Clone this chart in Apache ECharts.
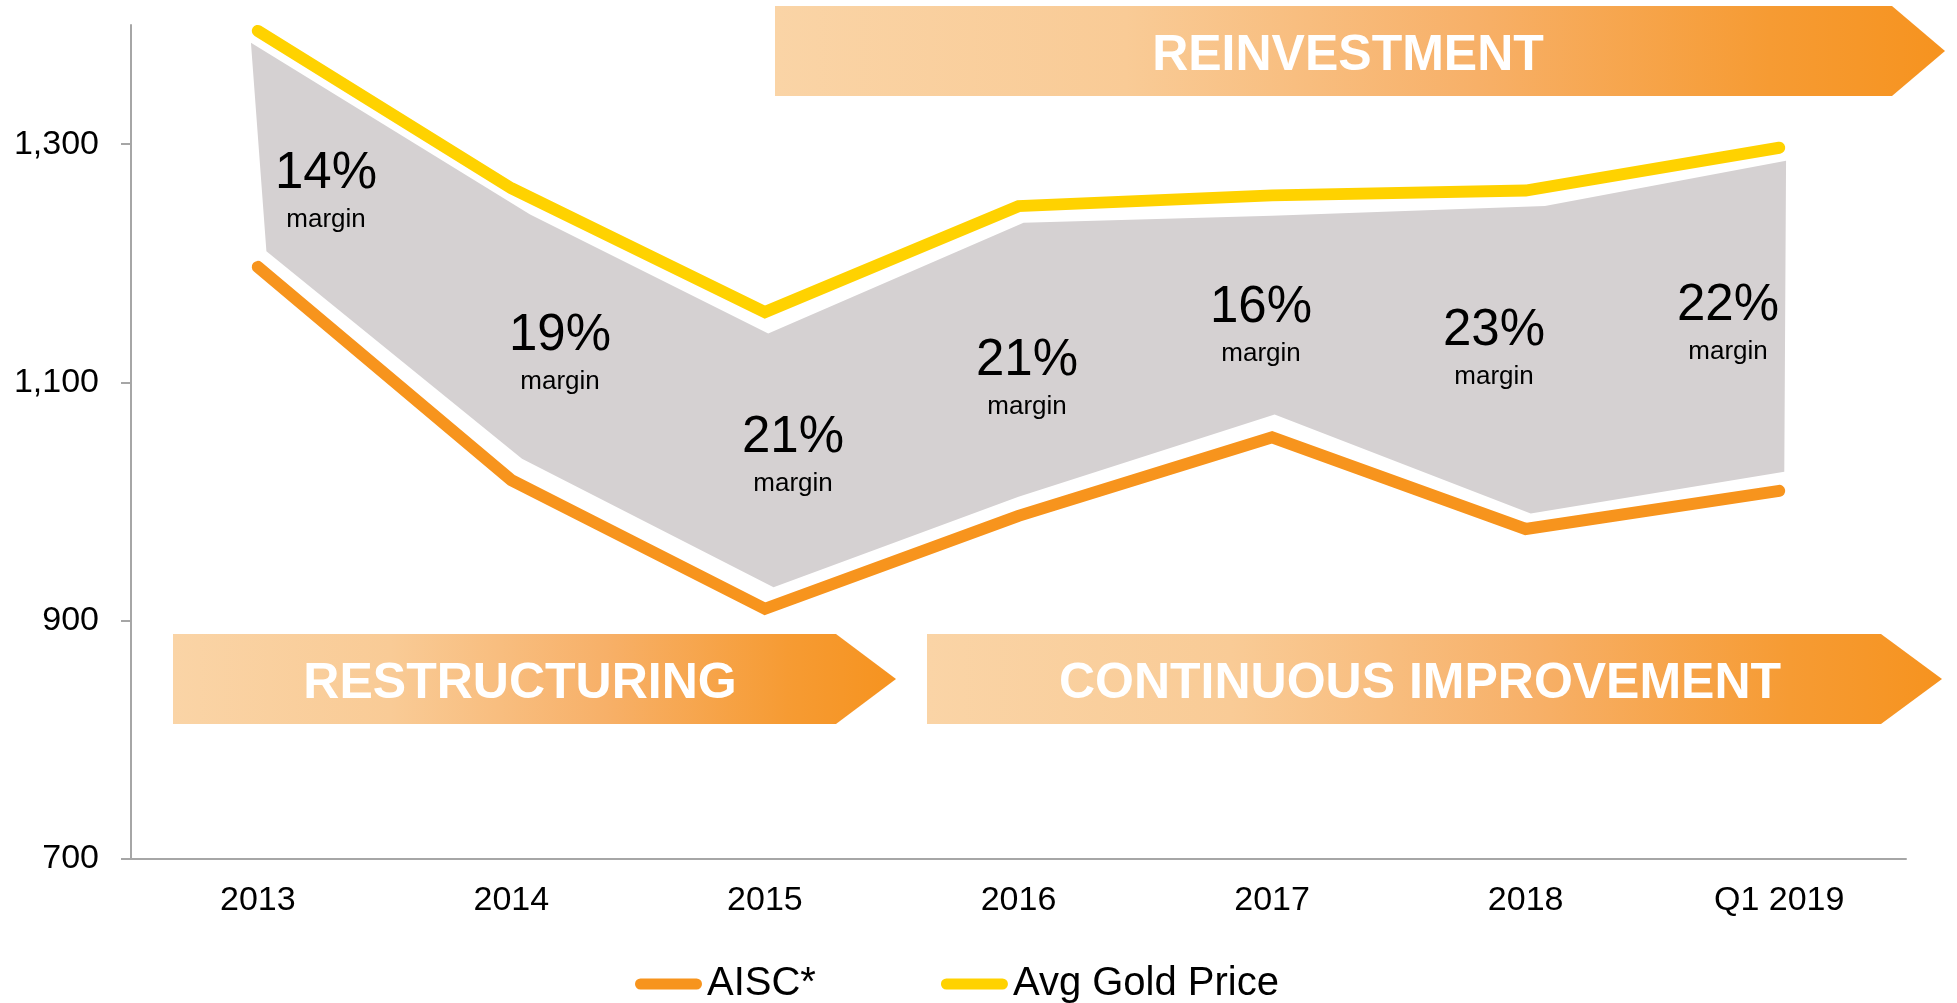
<!DOCTYPE html>
<html>
<head>
<meta charset="utf-8">
<title>AISC vs Avg Gold Price</title>
<script src="https://cdn.jsdelivr.net/npm/echarts@6/dist/echarts.min.js"></script>
<style>
  html, body { margin: 0; padding: 0; background: #fff; }
  #myChart { width: 1957px; height: 1003px; }
</style>
</head>
<body>
<div id="myChart"></div>
<script>
var categories = ['2013', '2014', '2015', '2016', '2017', '2018', 'Q1 2019'];
var aisc = [1197, 1018, 910, 988, 1054, 977, 1009];
var goldPrice = [1395, 1263, 1159, 1248, 1257, 1261, 1297];
var yTicks = [700, 900, 1100, 1300];

// grey margin band, x in category units (0 = 2013)
var bandTopPos = [-0.027, 1.074, 2.013, 3.02, 4.0, 5.076, 6.027];
var bandTopVal = [1385, 1241, 1141, 1234, 1240, 1248, 1286];
var bandBottomPos = [0.034, 1.042, 2.034, 3.0, 4.01, 5.02, 6.02];
var bandBottomVal = [1210, 1036, 928, 1004, 1073, 990, 1025];

var marginLabels = ['14%', '19%', '21%', '21%', '16%', '23%', '22%'];
var phases = ['RESTRUCTURING', 'REINVESTMENT', 'CONTINUOUS IMPROVEMENT'];

var font = "'Liberation Sans', Arial, sans-serif";
var orange = '#f7941d';
var yellow = '#ffd200';

// layout of the annotations (pixels)
var marginPos = [[326, 174], [560, 336], [793, 438], [1027, 361], [1261, 308], [1494, 331], [1728, 306]];
var phaseBoxes = [
  {x0: 173, x1: 836, tip: 896, y0: 634, y1: 724, tx: 520, ty: 684},
  {x0: 775, x1: 1892, tip: 1945, y0: 6, y1: 96, tx: 1348, ty: 56},
  {x0: 927, x1: 1881, tip: 1942, y0: 634, y1: 724, tx: 1420, ty: 684}
];

function fmt(v) {
  var s = String(v);
  return v >= 1000 ? s.slice(0, s.length - 3) + ',' + s.slice(-3) : s;
}

var graphics = [];
phaseBoxes.forEach(function (b, i) {
  var ym = (b.y0 + b.y1) / 2;
  graphics.push({
    type: 'polygon',
    z: 0,
    shape: {points: [[b.x0, b.y0], [b.x1, b.y0], [b.tip, ym], [b.x1, b.y1], [b.x0, b.y1]]},
    style: {
      fill: new echarts.graphic.LinearGradient(0, 0, 1, 0, [
        {offset: 0, color: '#fad4a6'},
        {offset: 0.3, color: '#f9cb96'},
        {offset: 0.6, color: '#f7b068'},
        {offset: 0.85, color: '#f69b33'},
        {offset: 1, color: '#f6931f'}
      ])
    }
  });
  graphics.push({
    type: 'text',
    z: 1,
    x: b.tx,
    y: b.ty,
    style: {
      text: phases[i],
      fill: '#fff',
      font: 'bold 50px ' + font,
      align: 'center',
      verticalAlign: 'middle'
    }
  });
});
marginLabels.forEach(function (lab, i) {
  var p = marginPos[i];
  graphics.push({
    type: 'text', z: 10, x: p[0], y: p[1],
    style: {text: lab, fill: '#000', font: '51px ' + font, align: 'center', verticalAlign: 'middle'}
  });
  graphics.push({
    type: 'text', z: 10, x: p[0], y: p[1] + 46,
    style: {text: 'margin', fill: '#000', font: '26px ' + font, align: 'center', verticalAlign: 'middle'}
  });
});

var myChart = echarts.init(document.getElementById('myChart'));
myChart.setOption({
  animation: false,
  backgroundColor: '#fff',
  grid: {left: 131, right: 51, top: 25, bottom: 144},
  legend: {
    data: ['AISC*', 'Avg Gold Price'],
    left: 635,
    top: 964,
    padding: 0,
    itemWidth: 67,
    itemHeight: 11,
    itemGap: 125,
    icon: 'path://M5.5,0 L61.5,0 A5.5,5.5 0 0 1 61.5,11 L5.5,11 A5.5,5.5 0 0 1 5.5,0 Z',
    textStyle: {fontSize: 40, color: '#000', fontFamily: font}
  },
  xAxis: [{
    type: 'category',
    data: categories,
    boundaryGap: true,
    axisLine: {onZero: false, lineStyle: {color: '#a6a6a6', width: 2}},
    axisTick: {show: false},
    axisLabel: {fontSize: 34, color: '#000', fontFamily: font, margin: 25}
  }, {
    type: 'value',
    min: -0.5,
    max: 6.5,
    show: false
  }],
  yAxis: {
    type: 'value',
    min: 700,
    max: 1400,
    interval: 100,
    axisLine: {show: true, onZero: false, lineStyle: {color: '#a6a6a6', width: 2}},
    axisTick: {show: true, length: 10, lineStyle: {color: '#a6a6a6', width: 2}, customValues: yTicks},
    axisLabel: {
      fontSize: 34, color: '#000', fontFamily: font, margin: 32,
      customValues: yTicks,
      formatter: fmt
    },
    splitLine: {show: false}
  },
  series: [{
    type: 'custom',
    name: 'band',
    xAxisIndex: 1,
    yAxisIndex: 0,
    silent: true,
    z: 1,
    data: [[0, 1000]],
    renderItem: function (params, api) {
      var pts = [];
      for (var i = 0; i < bandTopPos.length; i++) {
        pts.push(api.coord([bandTopPos[i], bandTopVal[i]]));
      }
      for (var j = bandBottomPos.length - 1; j >= 0; j--) {
        pts.push(api.coord([bandBottomPos[j], bandBottomVal[j]]));
      }
      return {type: 'polygon', shape: {points: pts}, style: {fill: '#d5d1d2'}};
    }
  }, {
    name: 'AISC*',
    type: 'line',
    data: aisc,
    symbol: 'none',
    z: 3,
    itemStyle: {color: orange},
    lineStyle: {color: orange, width: 12, cap: 'round', join: 'miter'}
  }, {
    name: 'Avg Gold Price',
    type: 'line',
    data: goldPrice,
    symbol: 'none',
    z: 3,
    itemStyle: {color: yellow},
    lineStyle: {color: yellow, width: 12, cap: 'round', join: 'miter'}
  }],
  graphic: graphics
});
</script>
</body>
</html>
